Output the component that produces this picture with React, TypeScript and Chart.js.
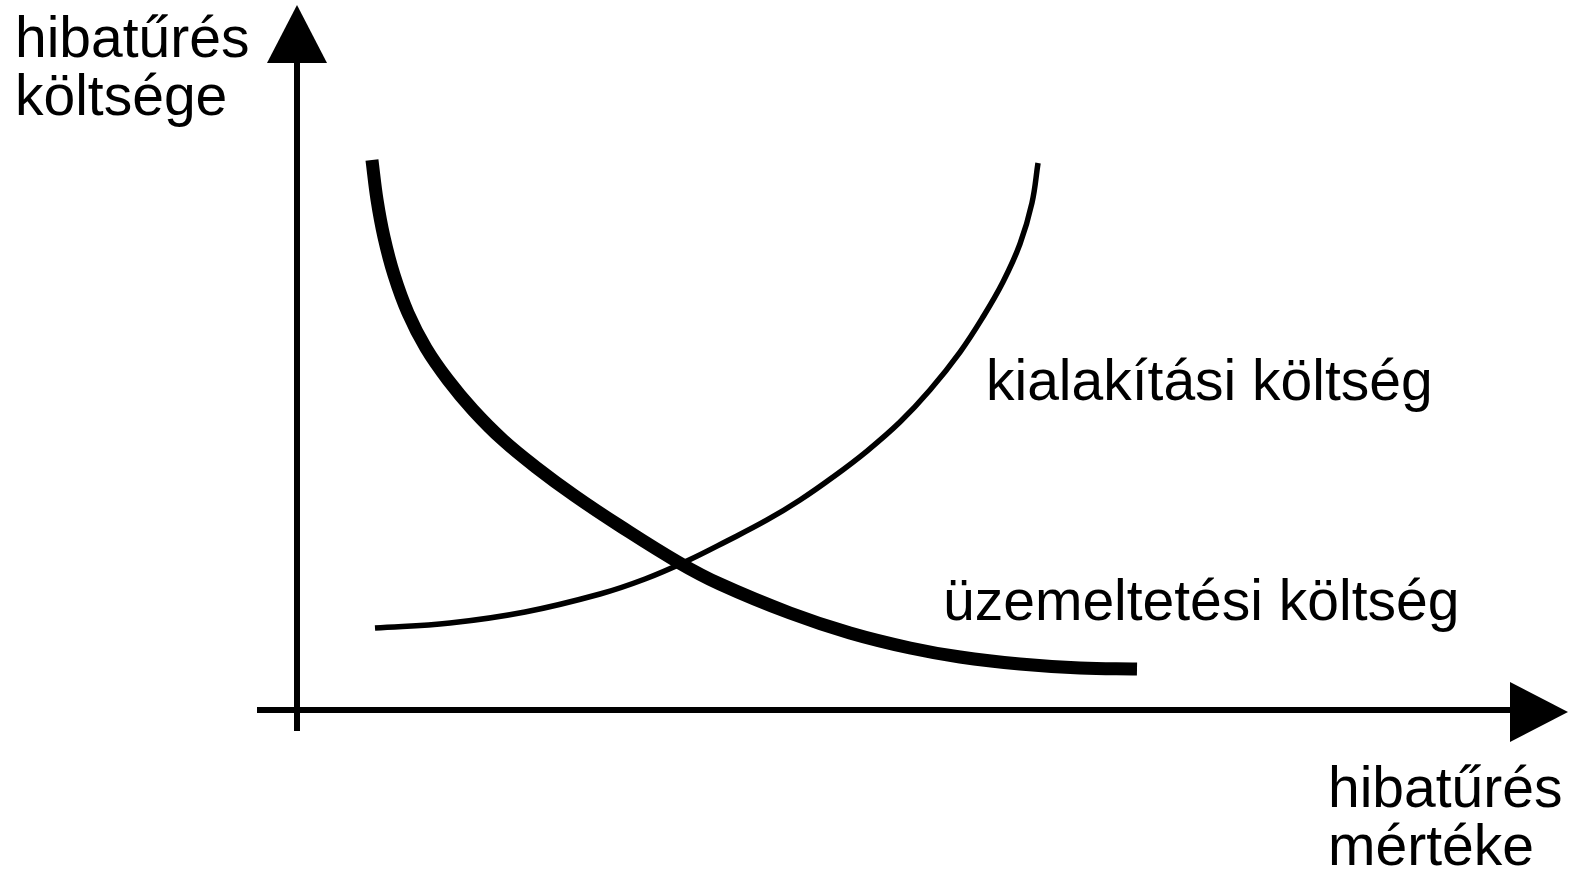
import React, { useEffect, useRef } from "react";
import { Chart, registerables } from "chart.js";

Chart.register(...registerables);

// x: hibatűrés mértéke (0..100), y: költség (0..100)
const kialakitasiX = [6.43, 12.61, 18.80, 24.98, 28.69, 32.15, 35.45, 38.75, 41.47, 44.19, 46.99, 49.71, 52.18, 54.66, 56.55, 58.20, 59.60, 60.59, 61.09];
const kialakitasiY = [12.67, 13.45, 15.15, 17.93, 20.25, 23.03, 26.12, 29.37, 32.46, 36.01, 40.03, 44.51, 49.46, 55.33, 60.74, 66.15, 72.02, 78.36, 84.54];

const uzemeltetesiX = [6.18, 6.60, 7.17, 8.00, 9.15, 10.63, 12.45, 14.51, 16.98, 19.79, 22.92, 26.63, 31.41, 34.87, 40.64, 45.59, 50.54, 54.66, 59.60, 64.55, 69.25];
const uzemeltetesiY = [85.0, 78.83, 73.11, 67.23, 61.36, 55.95, 51.0, 46.37, 41.73, 37.40, 33.08, 28.44, 22.87, 19.47, 14.99, 11.90, 9.58, 8.19, 7.11, 6.49, 6.34];

const yAxisTitle = ["hibatűrés", "költsége"];
const xAxisTitle = ["hibatűrés", "mértéke"];
const seriesLabels = ["kialakítási költség", "üzemeltetési költség"];

const FONT = '57px "Liberation Sans", Arial, sans-serif';

const axesPlugin = {
  id: "axesPlugin",
  afterDatasetsDraw(chart: any) {
    const { ctx } = chart;
    const x0 = chart.scales.x.getPixelForValue(0);
    const y0 = chart.scales.y.getPixelForValue(0);
    const xEnd = chart.scales.x.getPixelForValue(100);
    const yEnd = chart.scales.y.getPixelForValue(100);
    ctx.save();
    ctx.strokeStyle = "#000";
    ctx.fillStyle = "#000";
    ctx.lineWidth = 6;
    ctx.lineCap = "butt";
    // vertical axis
    ctx.beginPath();
    ctx.moveTo(x0, yEnd);
    ctx.lineTo(x0, y0 + 21);
    ctx.stroke();
    // horizontal axis
    ctx.beginPath();
    ctx.moveTo(x0 - 40, y0);
    ctx.lineTo(xEnd, y0);
    ctx.stroke();
    // up arrow
    ctx.beginPath();
    ctx.moveTo(x0, yEnd - 58);
    ctx.lineTo(x0 - 30, yEnd);
    ctx.lineTo(x0 + 30, yEnd);
    ctx.closePath();
    ctx.fill();
    // right arrow
    ctx.beginPath();
    ctx.moveTo(xEnd + 58, y0 + 2);
    ctx.lineTo(xEnd, y0 - 28);
    ctx.lineTo(xEnd, y0 + 32);
    ctx.closePath();
    ctx.fill();

    ctx.font = FONT;
    ctx.textAlign = "left";
    ctx.textBaseline = "alphabetic";
    ctx.fillText(yAxisTitle[0], 15, 57);
    ctx.fillText(yAxisTitle[1], 15, 115);
    ctx.fillText(xAxisTitle[0], 1328, 807);
    ctx.fillText(xAxisTitle[1], 1328, 865);
    ctx.fillText(seriesLabels[0], 986, 400);
    ctx.fillText(seriesLabels[1], 943, 620);
    ctx.restore();
  },
};

export default function App() {
  const ref = useRef<HTMLCanvasElement | null>(null);
  useEffect(() => {
    document.body.style.margin = "0";
    const canvas = ref.current;
    if (!canvas) return;
    const chart = new Chart(canvas, {
      type: "line",
      data: {
        datasets: [
          {
            label: seriesLabels[0],
            data: kialakitasiX.map((x, i) => ({ x, y: kialakitasiY[i] })),
            borderColor: "#000",
            borderWidth: 5.5,
            pointRadius: 0,
            fill: false,
            tension: 0.4,
            borderCapStyle: "butt",
            borderJoinStyle: "round",
          },
          {
            label: seriesLabels[1],
            data: uzemeltetesiX.map((x, i) => ({ x, y: uzemeltetesiY[i] })),
            borderColor: "#000",
            borderWidth: 13,
            pointRadius: 0,
            fill: false,
            tension: 0.4,
            borderCapStyle: "butt",
            borderJoinStyle: "round",
          },
        ],
      },
      options: {
        responsive: false,
        animation: false,
        events: [],
        layout: { padding: { left: 297, right: 63, top: 63, bottom: 163 } },
        plugins: { legend: { display: false }, tooltip: { enabled: false } },
        scales: {
          x: { type: "linear", min: 0, max: 100, display: false },
          y: { type: "linear", min: 0, max: 100, display: false },
        },
      },
      plugins: [axesPlugin],
    });
    return () => chart.destroy();
  }, []);
  return (
    <div style={{ width: 1573, height: 873, background: "#fff" }}>
      <canvas ref={ref} width={1573} height={873} />
    </div>
  );
}
